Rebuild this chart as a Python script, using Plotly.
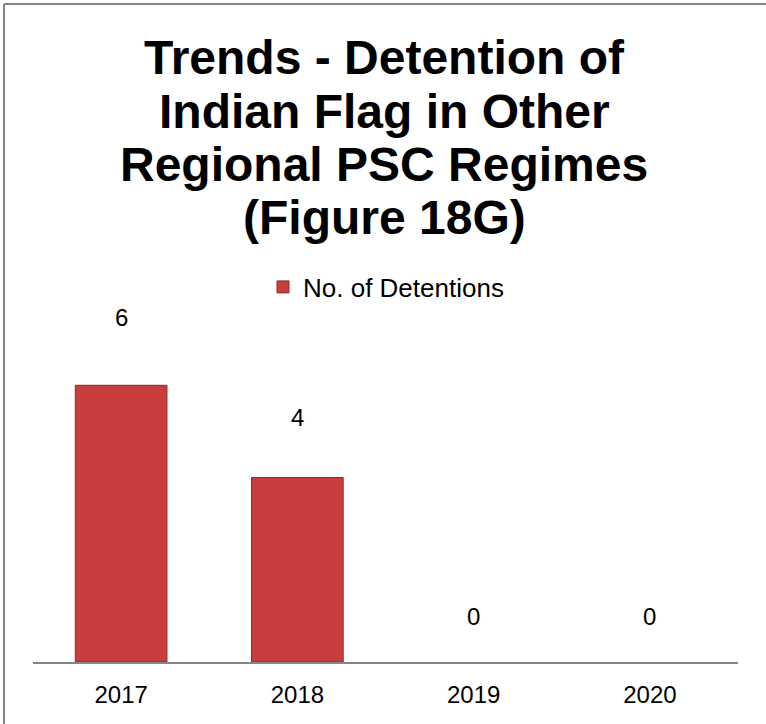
import plotly.graph_objects as go

years = ["2017", "2018", "2019", "2020"]
detentions = [6, 4, 0, 0]
series_name = "No. of Detentions"
title_lines = ["Trends - Detention of", "Indian Flag in Other", "Regional PSC Regimes", "(Figure 18G)"]

W, H = 766, 724
M_L, M_R, M_T, M_B = 33, 28, 270, 62
FONT = "Liberation Sans, Arial, sans-serif"


def py(px_y):
    # pixel row -> paper y
    return (H - M_B - px_y) / (H - M_T - M_B)


def px(px_x):
    return (px_x - M_L) / (W - M_L - M_R)


fig = go.Figure()
fig.add_trace(go.Bar(
    x=years, y=detentions, name=series_name,
    marker=dict(color="#C93D3D",
                line=dict(color="#8E2B2B", width=[1 if v else 0 for v in detentions])),
    showlegend=True,
))

# data labels above bars (category index used for x)
for i, v in enumerate(detentions):
    fig.add_annotation(x=i, y=v, text=str(v), showarrow=False, yshift=46 + 3.6 * v,
                       font=dict(family=FONT, size=24, color="#000000"))

# title lines
for i, line in enumerate(title_lines):
    fig.add_annotation(xref="paper", yref="paper", x=px(384), y=py(58 + 53 * i), text="<b>%s</b>" % line,
                       showarrow=False, xanchor="center", yanchor="middle",
                       font=dict(family=FONT, size=48, color="#000000"))

# chart border (left and top edges visible)
fig.add_shape(type="line", xref="paper", yref="paper", x0=px(4), x1=px(800), y0=py(4), y1=py(4),
              line=dict(color="#868686", width=2))
fig.add_shape(type="line", xref="paper", yref="paper", x0=px(4), x1=px(4), y0=py(4), y1=py(800),
              line=dict(color="#868686", width=2))

fig.update_layout(
    width=W, height=H,
    margin=dict(l=M_L, r=M_R, t=M_T, b=M_B, autoexpand=False),
    paper_bgcolor="white", plot_bgcolor="white",
    bargap=0.48,
    font=dict(family=FONT, size=24, color="#000000"),
    legend=dict(orientation="h", xref="container", yref="container", x=386 / W, y=1 - 287 / H,
                xanchor="center", yanchor="middle", font=dict(size=26)),
    xaxis=dict(type="category", range=[-0.5, 3.5], showline=True, linecolor="#868686", linewidth=2,
               ticks="", showgrid=False, tickfont=dict(size=24), ticklabelstandoff=10),
    yaxis=dict(range=[0, 8.5], visible=False, showgrid=False),
)

fig.write_html("out.html", config={"displayModeBar": False},
               post_script="document.body.style.margin='0';")
